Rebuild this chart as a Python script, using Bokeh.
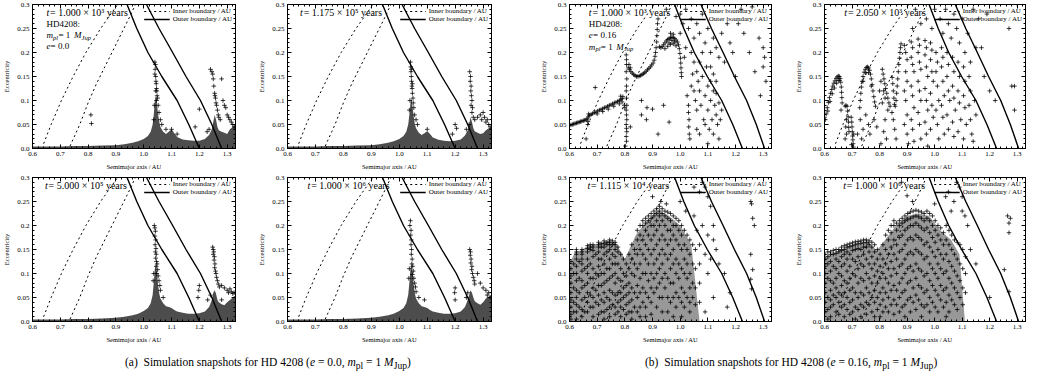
from bokeh.plotting import figure
from bokeh.models import Range1d, FixedTicker, LinearAxis, Label, Legend, LegendItem, Div, Spacer
from bokeh.layouts import column, row
from bokeh.embed import file_html
from bokeh.resources import INLINE

SERIF = "Liberation Serif"

# ---------------- axes ----------------
X_TICKS = [0.6, 0.7, 0.8, 0.9, 1.0, 1.1, 1.2, 1.3]
X_LABELS = ["0.6", "0.7", "0.8", "0.9", "1.0", "1.1", "1.2", "1.3"]
Y_TICKS = [0.0, 0.05, 0.1, 0.15, 0.2, 0.25, 0.3]
Y_LABELS = ["0.0", "0.05", "0.1", "0.15", "0.2", "0.25", "0.3"]

# ---------------- boundaries ----------------
INNER1_A = [0.640, 0.667, 0.704, 0.746, 0.792, 0.845, 0.906]
INNER1_E = [0.01, 0.05, 0.10, 0.15, 0.20, 0.25, 0.30]
INNER2_A = [0.735, 0.77, 0.80, 0.83, 0.86, 0.89, 0.92, 0.95, 0.97]
INNER2_E = [0.005, 0.05, 0.095, 0.135, 0.17, 0.205, 0.24, 0.275, 0.30]
OUTER_E = [0.30, 0.25, 0.20, 0.15, 0.10, 0.05, 0.0]
OUTER1_A_LEFT = [0.94, 0.975, 1.015, 1.065, 1.12, 1.162, 1.20]
OUTER2_A_LEFT = [1.01, 1.055, 1.104, 1.152, 1.204, 1.245, 1.28]
OUTER1_A_RIGHT = [0.98, 1.013, 1.051, 1.098, 1.15, 1.19, 1.225]
OUTER2_A_RIGHT = [1.075, 1.113, 1.155, 1.196, 1.24, 1.275, 1.305]

# ---------------- dense low-eccentricity band (e = 0.0 runs) ----------------
BAND_A = [0.6, 0.65, 0.7, 0.75, 0.8, 0.85, 0.9, 0.93, 0.96, 0.98, 1.0, 1.015, 1.025, 1.032, 1.036,
          1.04, 1.044, 1.048, 1.052, 1.056, 1.06, 1.07, 1.08, 1.09, 1.1, 1.11, 1.12, 1.14, 1.16, 1.18,
          1.2, 1.22, 1.235, 1.245, 1.25, 1.255, 1.26, 1.265, 1.27, 1.28, 1.29, 1.3, 1.31, 1.32, 1.33]
BAND1_E = [0.004, 0.004, 0.004, 0.005, 0.005, 0.006, 0.007, 0.009, 0.012, 0.015, 0.02, 0.026, 0.035, 0.05, 0.07,
           0.1, 0.11, 0.09, 0.07, 0.055, 0.045, 0.035, 0.03, 0.035, 0.04, 0.032, 0.024, 0.019, 0.017, 0.016,
           0.016, 0.02, 0.028, 0.04, 0.055, 0.07, 0.06, 0.045, 0.038, 0.035, 0.033, 0.03, 0.04, 0.045, 0.05]
BAND2_E = [0.004, 0.004, 0.004, 0.005, 0.005, 0.006, 0.007, 0.009, 0.012, 0.015, 0.02, 0.026, 0.035, 0.05, 0.07,
           0.095, 0.105, 0.085, 0.065, 0.05, 0.042, 0.033, 0.028, 0.032, 0.036, 0.03, 0.023, 0.018, 0.016, 0.015,
           0.016, 0.019, 0.027, 0.038, 0.05, 0.065, 0.055, 0.042, 0.036, 0.033, 0.03, 0.032, 0.038, 0.042, 0.045]
BAND5_E = [0.004, 0.004, 0.004, 0.005, 0.005, 0.006, 0.008, 0.01, 0.013, 0.016, 0.022, 0.028, 0.038, 0.055, 0.08,
           0.11, 0.12, 0.1, 0.075, 0.058, 0.048, 0.038, 0.032, 0.03, 0.028, 0.024, 0.021, 0.018, 0.016, 0.016,
           0.017, 0.021, 0.03, 0.045, 0.06, 0.065, 0.058, 0.045, 0.04, 0.036, 0.034, 0.04, 0.045, 0.05, 0.055]
BAND6_E = [0.004, 0.004, 0.004, 0.005, 0.005, 0.006, 0.008, 0.01, 0.013, 0.016, 0.022, 0.028, 0.038, 0.055, 0.08,
           0.11, 0.12, 0.1, 0.075, 0.058, 0.048, 0.038, 0.032, 0.03, 0.028, 0.024, 0.021, 0.018, 0.016, 0.016,
           0.017, 0.021, 0.03, 0.045, 0.055, 0.065, 0.06, 0.05, 0.042, 0.038, 0.035, 0.04, 0.048, 0.052, 0.055]

# upper envelope of the dense particle cloud (e = 0.16 runs, late snapshots)
CLOUD7_A = [0.6, 0.62, 0.64, 0.66, 0.7, 0.74, 0.77, 0.8, 0.84, 0.88, 0.92, 0.96, 1.0, 1.04, 1.07]
CLOUD7_E = [0.12, 0.145, 0.148, 0.155, 0.162, 0.168, 0.162, 0.13, 0.18, 0.21, 0.232, 0.22, 0.2, 0.16, 0.0]
CLOUD8_A = [0.6, 0.64, 0.68, 0.72, 0.76, 0.79, 0.82, 0.86, 0.9, 0.94, 0.98, 1.02, 1.06, 1.09, 1.11]
CLOUD8_E = [0.135, 0.145, 0.155, 0.162, 0.165, 0.148, 0.17, 0.2, 0.22, 0.225, 0.22, 0.19, 0.17, 0.14, 0.0]

# ---------------- particles (a [AU], e) ----------------
P1 = [(0.81, 0.07), (0.812, 0.052), (1.036, 0.06), (1.038, 0.09), (1.04, 0.18), (1.041, 0.165), (1.042, 0.175),
      (1.043, 0.15), (1.044, 0.14), (1.045, 0.135), (1.046, 0.125), (1.047, 0.12), (1.048, 0.11), (1.05, 0.105),
      (1.052, 0.09), (1.04, 0.155), (1.043, 0.12), (1.046, 0.1), (1.055, 0.075), (1.06, 0.06), (1.065, 0.05),
      (1.08, 0.04), (1.10, 0.04), (1.12, 0.03), (1.2, 0.082), (1.185, 0.045), (1.24, 0.165), (1.245, 0.16),
      (1.248, 0.155), (1.25, 0.145), (1.252, 0.13), (1.255, 0.115), (1.256, 0.11), (1.258, 0.105), (1.26, 0.095),
      (1.262, 0.09), (1.265, 0.08), (1.268, 0.07), (1.27, 0.065), (1.275, 0.06), (1.28, 0.145), (1.285, 0.1),
      (1.29, 0.09), (1.295, 0.085), (1.30, 0.07), (1.305, 0.065), (1.31, 0.06), (1.315, 0.055), (1.32, 0.05),
      (1.325, 0.045), (1.235, 0.04), (1.228, 0.035)]
P2 = [(1.036, 0.08), (1.038, 0.1), (1.04, 0.18), (1.041, 0.17), (1.042, 0.16), (1.043, 0.15), (1.044, 0.14),
      (1.045, 0.13), (1.046, 0.125), (1.047, 0.115), (1.049, 0.105), (1.05, 0.095), (1.052, 0.085), (1.043, 0.165),
      (1.047, 0.135), (1.055, 0.07), (1.06, 0.06), (1.065, 0.05), (1.1, 0.04), (1.2, 0.05), (1.205, 0.042),
      (1.19, 0.03), (1.252, 0.16), (1.255, 0.15), (1.254, 0.14), (1.257, 0.13), (1.256, 0.12), (1.258, 0.11),
      (1.26, 0.1), (1.257, 0.09), (1.262, 0.085), (1.26, 0.075), (1.265, 0.065), (1.27, 0.06), (1.28, 0.065),
      (1.29, 0.07), (1.295, 0.06), (1.3, 0.075), (1.305, 0.065), (1.31, 0.055), (1.315, 0.06), (1.32, 0.05),
      (1.325, 0.045), (1.25, 0.05), (1.24, 0.04)]
P5 = [(1.038, 0.2), (1.04, 0.195), (1.042, 0.188), (1.04, 0.178), (1.043, 0.17), (1.041, 0.16), (1.044, 0.152),
      (1.042, 0.145), (1.045, 0.14), (1.043, 0.132), (1.046, 0.125), (1.048, 0.12), (1.045, 0.115), (1.05, 0.108),
      (1.047, 0.1), (1.052, 0.095), (1.055, 0.085), (1.058, 0.075), (1.036, 0.1), (1.034, 0.085), (1.06, 0.065),
      (1.07, 0.05), (1.2, 0.075), (1.198, 0.065), (1.195, 0.05), (1.248, 0.155), (1.25, 0.15), (1.252, 0.145),
      (1.25, 0.14), (1.254, 0.135), (1.253, 0.128), (1.256, 0.12), (1.255, 0.112), (1.258, 0.105), (1.26, 0.1),
      (1.262, 0.092), (1.265, 0.085), (1.268, 0.078), (1.272, 0.072), (1.28, 0.075), (1.29, 0.07), (1.3, 0.065),
      (1.305, 0.06), (1.31, 0.068), (1.315, 0.062), (1.32, 0.058), (1.325, 0.06), (1.23, 0.045), (1.24, 0.055),
      (1.28, 0.045)]
P6 = [(1.038, 0.2), (1.04, 0.21), (1.042, 0.19), (1.041, 0.18), (1.043, 0.17), (1.042, 0.16), (1.044, 0.15),
      (1.043, 0.14), (1.046, 0.13), (1.045, 0.12), (1.048, 0.115), (1.05, 0.105), (1.047, 0.098), (1.052, 0.09),
      (1.055, 0.08), (1.058, 0.072), (1.036, 0.11), (1.034, 0.09), (1.06, 0.062), (1.07, 0.05), (1.09, 0.045),
      (1.2, 0.07), (1.198, 0.06), (1.252, 0.15), (1.255, 0.145), (1.254, 0.138), (1.257, 0.13), (1.256, 0.122),
      (1.26, 0.115), (1.259, 0.108), (1.262, 0.1), (1.265, 0.092), (1.268, 0.085), (1.27, 0.078), (1.28, 0.1),
      (1.29, 0.08), (1.3, 0.07), (1.31, 0.065), (1.32, 0.06), (1.325, 0.05), (1.315, 0.055), (1.24, 0.05),
      (1.245, 0.06), (1.2, 0.045)]

P3 = [(0.600, 0.048), (0.605, 0.049), (0.610, 0.050), (0.615, 0.051), (0.620, 0.052), (0.625, 0.053), (0.630, 0.054),
      (0.635, 0.055), (0.640, 0.056), (0.645, 0.057), (0.650, 0.058), (0.655, 0.059), (0.660, 0.060), (0.664, 0.062),
      (0.666, 0.050), (0.667, 0.056), (0.668, 0.066), (0.669, 0.072),
      (0.672, 0.069), (0.678, 0.071), (0.684, 0.073), (0.690, 0.075), (0.696, 0.076), (0.702, 0.078), (0.708, 0.080),
      (0.714, 0.081), (0.720, 0.083), (0.726, 0.085), (0.732, 0.086), (0.738, 0.088), (0.744, 0.090), (0.750, 0.091),
      (0.756, 0.093), (0.762, 0.095), (0.768, 0.096), (0.774, 0.098), (0.780, 0.100), (0.786, 0.102), (0.790, 0.104),
      (0.793, 0.108), (0.700, 0.072), (0.720, 0.077), (0.740, 0.082), (0.760, 0.088), (0.780, 0.093), (0.790, 0.097),
      (0.785, 0.109),
      (0.805, 0.195), (0.806, 0.185), (0.806, 0.175), (0.805, 0.16), (0.807, 0.145), (0.806, 0.13), (0.805, 0.12),
      (0.806, 0.105), (0.807, 0.09), (0.805, 0.08), (0.806, 0.07), (0.807, 0.06), (0.805, 0.05), (0.806, 0.042),
      (0.807, 0.035), (0.805, 0.025), (0.806, 0.015), (0.800, 0.085), (0.798, 0.09),
      (0.812, 0.168), (0.817, 0.164), (0.822, 0.160), (0.827, 0.157), (0.832, 0.154), (0.837, 0.152), (0.842, 0.150),
      (0.847, 0.150), (0.852, 0.151), (0.857, 0.152), (0.862, 0.154), (0.867, 0.156), (0.872, 0.158), (0.877, 0.161),
      (0.882, 0.164), (0.887, 0.167), (0.892, 0.170), (0.897, 0.174), (0.902, 0.178), (0.906, 0.184), (0.909, 0.192),
      (0.911, 0.200), (0.913, 0.210), (0.915, 0.222), (0.916, 0.235), (0.917, 0.248), (0.918, 0.260), (0.920, 0.270),
      (0.815, 0.175), (0.82, 0.168),
      (0.925, 0.212), (0.930, 0.210), (0.935, 0.212), (0.940, 0.216), (0.945, 0.220), (0.950, 0.224), (0.955, 0.227),
      (0.960, 0.229), (0.965, 0.231), (0.970, 0.232), (0.975, 0.231), (0.980, 0.229), (0.985, 0.226), (0.990, 0.222),
      (0.994, 0.216), (0.997, 0.208), (0.999, 0.198), (1.001, 0.188), (1.002, 0.178), (1.003, 0.168), (1.004, 0.158),
      (1.005, 0.150), (0.945, 0.208), (0.955, 0.213), (0.965, 0.217), (0.975, 0.218), (0.985, 0.214), (0.965, 0.240),
      (0.975, 0.238), (0.96, 0.22), (0.97, 0.225), (0.98, 0.222),
      (0.693, 0.127), (0.66, 0.02), (0.802, 0.005), (0.82, 0.045), (0.86, 0.07), (0.878, 0.06), (0.88, 0.085),
      (0.9, 0.082), (0.86, 0.1), (0.94, 0.09), (0.96, 0.055), (0.92, 0.03),
      (1.025, 0.11), (1.03, 0.09), (1.03, 0.075), (1.032, 0.06), (1.031, 0.045), (1.033, 0.03), (1.035, 0.02),
      (1.04, 0.13), (1.045, 0.155), (1.05, 0.12), (1.055, 0.1), (1.06, 0.08), (1.06, 0.16), (1.065, 0.14),
      (1.07, 0.18), (1.07, 0.12), (1.075, 0.09), (1.08, 0.2), (1.08, 0.15), (1.085, 0.06), (1.09, 0.11),
      (1.095, 0.17), (1.1, 0.13), (1.1, 0.08), (1.105, 0.04), (1.11, 0.14), (1.11, 0.1), (1.115, 0.06), (1.12, 0.12),
      (1.12, 0.03), (1.125, 0.09), (1.13, 0.07), (1.13, 0.115), (1.135, 0.05), (1.14, 0.095), (1.14, 0.02),
      (1.145, 0.06), (1.15, 0.08), (1.1, 0.01), (1.06, 0.04), (1.07, 0.03), (1.09, 0.05), (1.05, 0.18), (1.04, 0.2),
      (1.11, 0.17), (1.12, 0.155), (1.13, 0.14),
      (1.0, 0.28), (1.01, 0.26), (1.02, 0.29), (1.03, 0.25), (1.04, 0.27), (1.05, 0.23), (1.06, 0.26), (1.07, 0.24),
      (1.08, 0.28), (1.09, 0.22), (1.1, 0.25), (1.11, 0.2), (1.12, 0.23), (1.13, 0.21), (1.14, 0.19), (1.15, 0.24),
      (1.16, 0.18), (1.17, 0.26), (1.18, 0.22), (1.19, 0.2), (1.2, 0.15), (1.21, 0.26), (1.22, 0.29), (1.23, 0.24),
      (1.25, 0.2), (1.26, 0.295), (1.27, 0.16), (1.29, 0.11), (1.3, 0.21), (1.3, 0.17), (1.305, 0.19), (1.31, 0.14),
      (1.285, 0.23), (0.95, 0.29), (0.985, 0.275), (1.0, 0.24), (1.02, 0.21), (1.015, 0.19), (0.99, 0.3)]

P4 = [(0.603, 0.060), (0.606, 0.072), (0.610, 0.085), (0.614, 0.096), (0.618, 0.106), (0.622, 0.115), (0.626, 0.123),
      (0.630, 0.130), (0.634, 0.136), (0.638, 0.141), (0.642, 0.146), (0.646, 0.149), (0.650, 0.151), (0.654, 0.150),
      (0.657, 0.146), (0.659, 0.138), (0.661, 0.128), (0.662, 0.117), (0.663, 0.106), (0.664, 0.095), (0.612, 0.078),
      (0.62, 0.098), (0.628, 0.114), (0.636, 0.126), (0.644, 0.136), (0.65, 0.142), (0.655, 0.142), (0.6, 0.065),
      (0.66, 0.08),
      (0.675, 0.088), (0.678, 0.09), (0.682, 0.088), (0.684, 0.078), (0.686, 0.066), (0.687, 0.055), (0.688, 0.044),
      (0.689, 0.035), (0.68, 0.06), (0.677, 0.045), (0.68, 0.03), (0.675, 0.02),
      (0.697, 0.065), (0.699, 0.055), (0.7, 0.045), (0.701, 0.035), (0.702, 0.026), (0.703, 0.018), (0.704, 0.01),
      (0.705, 0.003), (0.698, 0.008), (0.706, 0.03),
      (0.728, 0.085), (0.73, 0.1), (0.732, 0.115), (0.734, 0.128), (0.737, 0.14), (0.74, 0.15), (0.744, 0.159),
      (0.748, 0.165), (0.752, 0.169), (0.756, 0.17), (0.76, 0.168), (0.764, 0.163), (0.767, 0.155), (0.77, 0.145),
      (0.773, 0.133), (0.776, 0.12), (0.779, 0.108), (0.782, 0.097), (0.785, 0.088), (0.74, 0.14), (0.75, 0.158),
      (0.76, 0.158), (0.77, 0.13), (0.73, 0.06), (0.74, 0.04), (0.735, 0.02), (0.75, 0.07), (0.76, 0.05),
      (0.765, 0.03), (0.72, 0.03), (0.78, 0.06), (0.79, 0.045),
      (0.81, 0.165), (0.813, 0.155), (0.816, 0.145), (0.819, 0.135), (0.822, 0.125), (0.826, 0.115), (0.83, 0.105),
      (0.834, 0.095), (0.838, 0.088), (0.815, 0.12), (0.82, 0.105), (0.83, 0.08), (0.805, 0.14), (0.8, 0.12),
      (0.81, 0.095), (0.82, 0.06), (0.815, 0.035), (0.825, 0.02), (0.805, 0.01),
      (0.846, 0.148), (0.848, 0.135), (0.85, 0.12), (0.852, 0.105), (0.854, 0.092), (0.857, 0.088), (0.86, 0.1),
      (0.862, 0.115), (0.864, 0.13), (0.866, 0.145), (0.868, 0.16), (0.87, 0.175), (0.872, 0.188), (0.874, 0.2),
      (0.876, 0.21), (0.878, 0.218), (0.85, 0.06), (0.855, 0.04), (0.86, 0.02), (0.845, 0.075),
      (0.89, 0.215), (0.895, 0.2), (0.9, 0.185), (0.895, 0.16), (0.9, 0.14), (0.89, 0.12), (0.895, 0.1), (0.9, 0.07),
      (0.89, 0.05), (0.9, 0.03), (0.905, 0.01),
      (0.915, 0.222), (0.92, 0.21), (0.915, 0.19), (0.92, 0.175), (0.925, 0.16), (0.915, 0.13), (0.92, 0.11),
      (0.925, 0.085), (0.915, 0.06), (0.92, 0.04), (0.925, 0.015),
      (0.94, 0.228), (0.945, 0.215), (0.94, 0.2), (0.945, 0.18), (0.95, 0.165), (0.94, 0.14), (0.945, 0.12),
      (0.95, 0.1), (0.94, 0.075), (0.945, 0.05), (0.95, 0.02),
      (0.965, 0.225), (0.97, 0.21), (0.965, 0.195), (0.97, 0.17), (0.975, 0.15), (0.965, 0.125), (0.97, 0.1),
      (0.975, 0.08), (0.965, 0.055), (0.97, 0.03), (0.975, 0.005),
      (0.985, 0.22), (0.99, 0.205), (0.985, 0.185), (0.99, 0.16), (0.995, 0.14), (0.985, 0.115), (0.99, 0.09),
      (0.995, 0.065), (0.985, 0.04),
      (1.005, 0.2), (1.01, 0.18), (1.005, 0.16), (1.01, 0.13), (1.015, 0.1), (1.005, 0.08), (1.01, 0.05),
      (1.015, 0.02), (1.025, 0.21), (1.03, 0.19), (1.025, 0.17), (1.03, 0.14), (1.035, 0.11), (1.025, 0.09),
      (1.03, 0.065), (1.035, 0.03), (1.045, 0.2), (1.05, 0.175), (1.045, 0.15), (1.05, 0.12), (1.055, 0.1),
      (1.045, 0.07), (1.05, 0.04), (1.065, 0.19), (1.07, 0.16), (1.065, 0.13), (1.07, 0.105), (1.075, 0.08),
      (1.065, 0.055), (1.07, 0.025), (1.085, 0.18), (1.09, 0.15), (1.085, 0.12), (1.09, 0.095), (1.095, 0.06),
      (1.085, 0.035), (1.105, 0.17), (1.11, 0.14), (1.105, 0.11), (1.11, 0.085), (1.115, 0.05), (1.105, 0.02),
      (1.125, 0.15), (1.13, 0.12), (1.125, 0.09), (1.13, 0.06), (1.135, 0.03), (1.145, 0.1), (1.15, 0.07),
      (1.14, 0.015),
      (0.92, 0.25), (0.95, 0.26), (0.97, 0.27), (0.99, 0.25), (1.0, 0.29), (1.02, 0.27), (1.03, 0.24), (1.04, 0.29),
      (1.05, 0.26), (1.06, 0.23), (1.07, 0.28), (1.08, 0.25), (1.09, 0.22), (1.1, 0.27), (1.11, 0.2), (1.12, 0.24),
      (1.13, 0.18), (1.14, 0.29), (1.15, 0.21), (1.16, 0.27), (1.17, 0.21), (1.18, 0.15), (1.2, 0.12), (1.19, 0.28),
      (1.22, 0.1), (1.27, 0.25), (1.28, 0.13), (1.29, 0.13), (1.29, 0.08), (1.3, 0.3), (0.93, 0.29), (0.97, 0.3)]

P7_COLS = [
    (0.605, [0.125, 0.11, 0.095, 0.08, 0.06, 0.045, 0.03, 0.015, 0.005]),
    (0.615, [0.12, 0.1, 0.07, 0.04, 0.02]),
    (0.625, [0.15, 0.145, 0.14, 0.13, 0.115, 0.1, 0.085, 0.065, 0.05, 0.035, 0.02, 0.005]),
    (0.635, [0.125, 0.09, 0.06, 0.03]),
    (0.645, [0.15, 0.145, 0.14, 0.13, 0.12, 0.105, 0.085, 0.07, 0.045, 0.025, 0.01]),
    (0.655, [0.11, 0.075, 0.05, 0.02]),
    (0.665, [0.158, 0.152, 0.145, 0.13, 0.115, 0.1, 0.08, 0.06, 0.04, 0.02]),
    (0.675, [0.16, 0.155, 0.15, 0.12, 0.09, 0.055, 0.03]),
    (0.685, [0.16, 0.155, 0.148, 0.135, 0.11, 0.09, 0.07, 0.05, 0.03, 0.01]),
    (0.695, [0.14, 0.1, 0.065, 0.04]),
    (0.705, [0.165, 0.16, 0.155, 0.145, 0.13, 0.115, 0.095, 0.075, 0.055, 0.035, 0.015]),
    (0.715, [0.162, 0.155, 0.13, 0.1, 0.075, 0.045, 0.02]),
    (0.725, [0.168, 0.162, 0.155, 0.14, 0.12, 0.1, 0.08, 0.06, 0.04, 0.02, 0.005]),
    (0.735, [0.165, 0.16, 0.145, 0.11, 0.085, 0.05, 0.025]),
    (0.745, [0.17, 0.165, 0.16, 0.15, 0.13, 0.11, 0.09, 0.065, 0.045, 0.03, 0.01]),
    (0.755, [0.168, 0.16, 0.14, 0.12, 0.095, 0.06, 0.035]),
    (0.765, [0.165, 0.16, 0.15, 0.135, 0.12, 0.1, 0.08, 0.055, 0.03, 0.015]),
    (0.775, [0.155, 0.145, 0.12, 0.09, 0.06, 0.04, 0.02]),
    (0.785, [0.14, 0.11, 0.085, 0.06, 0.045, 0.03, 0.01]),
    (0.795, [0.13, 0.1, 0.07, 0.05, 0.025]),
    (0.805, [0.12, 0.095, 0.075, 0.055, 0.035, 0.015]),
    (0.815, [0.14, 0.11, 0.08, 0.06, 0.04, 0.02]),
    (0.825, [0.16, 0.13, 0.1, 0.07, 0.045, 0.02, 0.005]),
    (0.835, [0.15, 0.12, 0.095, 0.06, 0.03]),
    (0.845, [0.19, 0.17, 0.14, 0.11, 0.075, 0.05, 0.02]),
    (0.855, [0.2, 0.18, 0.15, 0.12, 0.09, 0.06, 0.03, 0.01]),
    (0.865, [0.21, 0.2, 0.17, 0.14, 0.1, 0.07, 0.04]),
    (0.875, [0.215, 0.205, 0.19, 0.16, 0.13, 0.1, 0.06, 0.03, 0.01]),
    (0.885, [0.22, 0.21, 0.18, 0.15, 0.12, 0.085, 0.05]),
    (0.895, [0.225, 0.215, 0.2, 0.17, 0.14, 0.1, 0.07, 0.04, 0.015]),
    (0.905, [0.23, 0.22, 0.2, 0.18, 0.15, 0.12, 0.09, 0.06]),
    (0.915, [0.235, 0.225, 0.21, 0.19, 0.16, 0.13, 0.1, 0.07, 0.03]),
    (0.925, [0.24, 0.23, 0.22, 0.2, 0.17, 0.14, 0.11, 0.08, 0.05]),
    (0.935, [0.235, 0.225, 0.21, 0.18, 0.15, 0.12, 0.09, 0.05, 0.02]),
    (0.945, [0.23, 0.22, 0.2, 0.17, 0.14, 0.1, 0.07]),
    (0.955, [0.228, 0.215, 0.19, 0.16, 0.13, 0.09, 0.05, 0.02]),
    (0.965, [0.225, 0.21, 0.19, 0.17, 0.14, 0.11, 0.08, 0.04]),
    (0.975, [0.22, 0.2, 0.18, 0.15, 0.12, 0.08, 0.05, 0.01]),
    (0.985, [0.215, 0.2, 0.17, 0.13, 0.1, 0.06, 0.03]),
    (0.995, [0.21, 0.19, 0.16, 0.12, 0.09, 0.05]),
    (1.005, [0.2, 0.18, 0.15, 0.11, 0.07, 0.04, 0.01]),
    (1.015, [0.19, 0.16, 0.13, 0.1, 0.06, 0.03]),
    (1.025, [0.18, 0.15, 0.12, 0.09, 0.05]),
    (1.035, [0.17, 0.14, 0.1, 0.07, 0.04, 0.02]),
    (1.045, [0.16, 0.12, 0.08, 0.05]),
    (1.055, [0.15, 0.11, 0.07, 0.035]),
    (1.07, [0.12, 0.08, 0.04]),
]
P7_EXTRA = [(0.9, 0.26), (0.93, 0.25), (0.95, 0.245), (1.0, 0.25), (1.02, 0.23), (1.05, 0.22), (1.06, 0.19),
            (1.08, 0.2), (1.1, 0.18), (1.12, 0.17), (1.14, 0.12), (1.16, 0.1), (1.18, 0.06), (1.1, 0.1),
            (1.09, 0.14), (1.07, 0.16), (1.11, 0.13), (1.05, 0.28), (1.07, 0.27), (1.08, 0.29), (1.09, 0.28),
            (1.1, 0.26), (1.11, 0.24), (1.12, 0.2), (1.13, 0.15), (1.255, 0.25), (1.258, 0.245), (1.262, 0.215),
            (1.268, 0.2), (1.255, 0.14), (1.262, 0.108), (1.255, 0.088), (1.258, 0.068), (1.17, 0.03),
            (1.09, 0.02), (1.12, 0.05)]

P8_COLS = [
    (0.602, [0.14, 0.13, 0.115, 0.1, 0.08, 0.06, 0.04, 0.02]),
    (0.612, [0.145, 0.135, 0.12, 0.09, 0.05, 0.025, 0.005]),
    (0.622, [0.145, 0.14, 0.125, 0.105, 0.085, 0.065, 0.045, 0.03, 0.01]),
    (0.632, [0.148, 0.14, 0.115, 0.08, 0.055, 0.035]),
    (0.642, [0.15, 0.142, 0.13, 0.11, 0.09, 0.07, 0.05, 0.02]),
    (0.652, [0.15, 0.145, 0.125, 0.1, 0.06, 0.04, 0.015]),
    (0.662, [0.155, 0.148, 0.135, 0.115, 0.095, 0.075, 0.055, 0.03]),
    (0.672, [0.158, 0.15, 0.14, 0.12, 0.085, 0.06, 0.035, 0.01]),
    (0.682, [0.16, 0.155, 0.145, 0.13, 0.105, 0.08, 0.05, 0.025]),
    (0.692, [0.162, 0.156, 0.14, 0.115, 0.09, 0.065, 0.04, 0.015]),
    (0.702, [0.164, 0.158, 0.148, 0.13, 0.1, 0.07, 0.045, 0.02]),
    (0.712, [0.166, 0.16, 0.15, 0.125, 0.095, 0.06, 0.03, 0.005]),
    (0.722, [0.167, 0.162, 0.152, 0.135, 0.11, 0.08, 0.05, 0.025]),
    (0.732, [0.168, 0.163, 0.15, 0.12, 0.09, 0.06, 0.035, 0.01]),
    (0.742, [0.17, 0.164, 0.155, 0.14, 0.115, 0.085, 0.055, 0.03]),
    (0.752, [0.17, 0.165, 0.155, 0.13, 0.1, 0.07, 0.04, 0.015]),
    (0.762, [0.168, 0.16, 0.145, 0.12, 0.09, 0.06, 0.035]),
    (0.772, [0.165, 0.155, 0.135, 0.11, 0.08, 0.05, 0.02]),
    (0.782, [0.16, 0.145, 0.12, 0.095, 0.065, 0.04, 0.01]),
    (0.792, [0.15, 0.13, 0.105, 0.08, 0.05, 0.025]),
    (0.802, [0.14, 0.115, 0.09, 0.06, 0.035, 0.01]),
    (0.812, [0.16, 0.13, 0.1, 0.07, 0.045, 0.02]),
    (0.822, [0.18, 0.15, 0.12, 0.09, 0.06, 0.03]),
    (0.832, [0.19, 0.17, 0.14, 0.11, 0.08, 0.05, 0.02]),
    (0.842, [0.2, 0.185, 0.155, 0.125, 0.095, 0.065, 0.035]),
    (0.852, [0.21, 0.2, 0.17, 0.14, 0.11, 0.075, 0.045, 0.015]),
    (0.862, [0.205, 0.19, 0.16, 0.13, 0.1, 0.065, 0.035]),
    (0.872, [0.21, 0.2, 0.175, 0.145, 0.115, 0.08, 0.05, 0.02]),
    (0.882, [0.215, 0.205, 0.18, 0.15, 0.12, 0.09, 0.06, 0.03]),
    (0.892, [0.22, 0.21, 0.19, 0.16, 0.13, 0.1, 0.065, 0.035, 0.01]),
    (0.902, [0.225, 0.212, 0.195, 0.17, 0.14, 0.11, 0.08, 0.045]),
    (0.912, [0.228, 0.215, 0.2, 0.175, 0.145, 0.115, 0.085, 0.05, 0.02]),
    (0.922, [0.23, 0.218, 0.2, 0.17, 0.14, 0.105, 0.07, 0.04]),
    (0.932, [0.232, 0.22, 0.205, 0.18, 0.15, 0.12, 0.09, 0.055, 0.025]),
    (0.942, [0.23, 0.218, 0.2, 0.175, 0.145, 0.11, 0.075, 0.045]),
    (0.952, [0.228, 0.215, 0.195, 0.17, 0.14, 0.105, 0.07, 0.035, 0.01]),
    (0.962, [0.225, 0.21, 0.19, 0.16, 0.13, 0.095, 0.06, 0.03]),
    (0.972, [0.23, 0.215, 0.195, 0.165, 0.135, 0.1, 0.065, 0.035]),
    (0.982, [0.225, 0.21, 0.185, 0.155, 0.12, 0.085, 0.05, 0.02]),
    (0.992, [0.22, 0.2, 0.175, 0.145, 0.11, 0.075, 0.04]),
    (1.002, [0.21, 0.19, 0.165, 0.135, 0.1, 0.065, 0.03]),
    (1.012, [0.2, 0.18, 0.15, 0.12, 0.09, 0.055, 0.02]),
    (1.022, [0.195, 0.17, 0.14, 0.11, 0.075, 0.045]),
    (1.032, [0.185, 0.16, 0.13, 0.1, 0.065, 0.03]),
    (1.042, [0.2, 0.17, 0.14, 0.105, 0.07, 0.04, 0.01]),
    (1.052, [0.19, 0.16, 0.125, 0.09, 0.055, 0.02]),
    (1.062, [0.18, 0.15, 0.115, 0.08, 0.045]),
    (1.072, [0.17, 0.14, 0.105, 0.07, 0.035]),
    (1.082, [0.165, 0.13, 0.095, 0.06, 0.025]),
    (1.092, [0.16, 0.12, 0.085, 0.05]),
    (1.102, [0.15, 0.11, 0.07, 0.035]),
    (1.112, [0.135, 0.1, 0.06]),
]
P8_EXTRA = [(0.88, 0.29), (0.9, 0.262), (0.92, 0.25), (1.0, 0.245), (1.05, 0.27), (1.07, 0.25), (1.08, 0.29),
            (1.1, 0.23), (1.11, 0.22), (1.12, 0.2), (1.1, 0.26), (1.09, 0.28), (1.13, 0.15), (1.15, 0.12),
            (1.265, 0.22), (1.275, 0.215), (1.27, 0.205), (1.27, 0.185), (1.253, 0.108), (1.27, 0.062),
            (1.06, 0.23), (1.04, 0.26), (1.2, 0.05)]

# snapshot times, panel order: top row left->right, then bottom row
TIMES = ["1.000 × 10³", "1.175 × 10⁵", "1.000 × 10³", "2.050 × 10³",
         "5.000 × 10⁵", "1.000 × 10⁶", "1.115 × 10⁴", "1.000 × 10⁶"]


def expand(cols):
    return [(a, e) for a, es in cols for e in es]


def style_axis(ax, ticks, minor, labels, title, standoff):
    ax.ticker = FixedTicker(ticks=ticks, minor_ticks=minor)
    ax.major_label_overrides = dict(zip(ticks, labels))
    ax.major_tick_in = 4
    ax.major_tick_out = 0
    ax.minor_tick_in = 2
    ax.minor_tick_out = 0
    ax.axis_line_color = "black"
    ax.major_tick_line_color = "black"
    ax.minor_tick_line_color = "black"
    ax.major_label_text_font = SERIF
    ax.major_label_text_font_size = "7px"
    ax.major_label_text_color = "black"
    ax.major_label_standoff = 3
    ax.axis_label = title
    ax.axis_label_text_font = SERIF
    ax.axis_label_text_font_size = "6.5px"
    ax.axis_label_text_font_style = "normal"
    ax.axis_label_text_color = "black"
    ax.axis_label_standoff = standoff


def mirror(p, ticks, minor, place):
    # tick marks only (no labels): ticks are given as "minor" ticks of an unlabeled axis
    for tk, ln in ((ticks, 4), (minor, 2)):
        ax = LinearAxis(ticker=FixedTicker(ticks=[], minor_ticks=tk), major_label_standoff=0,
                        major_tick_in=0, major_tick_out=0, minor_tick_in=ln, minor_tick_out=0,
                        minor_tick_line_color="black", axis_line_color="black")
        p.add_layout(ax, place)


def rich(p, x, y, parts):
    off = 0.0
    for txt, style, size, dy, w in parts:
        p.add_layout(Label(x=x, y=y, x_offset=off, y_offset=dy, text=txt, text_font=SERIF,
                           text_font_size=f"{size}px", text_font_style=style,
                           text_baseline="middle", text_align="left", text_color="black"))
        off += w


X_MINOR = [round(0.6 + 0.02 * i, 2) for i in range(37)]
Y_MINOR = [round(0.01 * i, 2) for i in range(31)]


def make_panel(width, height, mbl, mbr, mbt, mbb, pts, band, out1, out2, tstr, tx, info):
    p = figure(width=width, height=height, x_range=Range1d(0.6, 1.33), y_range=Range1d(0.0, 0.3),
               output_backend="svg", toolbar_location=None,
               min_border_left=mbl, min_border_right=mbr, min_border_top=mbt, min_border_bottom=mbb)
    p.xgrid.visible = False
    p.ygrid.visible = False
    p.outline_line_color = "black"
    p.outline_line_width = 1
    p.background_fill_color = "white"
    p.border_fill_color = "white"

    if band is not None:
        ba, be, col, alpha = band
        p.varea(x=ba, y1=0, y2=be, fill_color=col, fill_alpha=alpha)
    a = [q[0] for q in pts]
    e = [q[1] for q in pts]
    p.scatter(a, e, marker="cross", size=4.5, line_color="black", line_width=0.9, line_alpha=0.85)

    r_in = p.line(INNER1_A, INNER1_E, line_color="black", line_width=1, line_dash="2 3")
    p.line(INNER2_A, INNER2_E, line_color="black", line_width=1, line_dash="2 3")
    r_out = p.line(out1, OUTER_E, line_color="black", line_width=1.4)
    p.line(out2, OUTER_E, line_color="black", line_width=1.4)

    style_axis(p.xaxis[0], X_TICKS, X_MINOR, X_LABELS, "Semimajor axis / AU", 4)
    style_axis(p.yaxis[0], Y_TICKS, Y_MINOR, Y_LABELS, "Eccentricity", 4)
    mirror(p, X_TICKS, X_MINOR, "above")
    mirror(p, Y_TICKS, Y_MINOR, "right")

    legend = Legend(items=[LegendItem(label="Inner boundary / AU", renderers=[r_in]),
                           LegendItem(label="Outer boundary / AU", renderers=[r_out])],
                    location="top_right", label_text_font=SERIF, label_text_font_size="7px",
                    label_text_color="black",
                    label_height=6, glyph_height=6, glyph_width=26, spacing=0, padding=1, margin=2,
                    label_standoff=3, background_fill_alpha=0, border_line_alpha=0)
    p.add_layout(legend)

    rich(p, tx, 0.284, [("t", "italic", 10, 0, 3.6), (" = " + tstr + " years", "normal", 10, 0, 0)])
    for (y, parts) in info:
        rich(p, tx, y, parts)
    return p


HD = [("HD4208:", "normal", 9, 0, 0)]
MPL = [("m", "italic", 9, 0, 6.6), ("pl", "italic", 6.5, -2, 5.4), (" = 1 ", "normal", 9, 0, 15.5),
       ("M", "italic", 9, 0, 7.6), ("Jup", "italic", 6.5, -2, 0)]
E00 = [("e", "italic", 9, 0, 4.2), (" = 0.0", "normal", 9, 0, 0)]
E16 = [("e", "italic", 9, 0, 4.2), (" = 0.16", "normal", 9, 0, 0)]

DARK = "#111111"
GREY = "#444444"
TOP_H, BOT_H = 173, 173
f1 = make_panel(255, TOP_H, 27, 20, 4, 25, P1, (BAND_A, BAND1_E, DARK, 0.75), OUTER1_A_LEFT, OUTER2_A_LEFT,
                TIMES[0], 0.65, [(0.259, HD), (0.236, MPL), (0.213, E00)])
f2 = make_panel(282, TOP_H, 28, 46, 4, 25, P2, (BAND_A, BAND2_E, DARK, 0.75), OUTER1_A_LEFT, OUTER2_A_LEFT,
                TIMES[1], 0.645, [])
f3 = make_panel(255, TOP_H, 29, 21, 4, 25, P3, None, OUTER1_A_RIGHT, OUTER2_A_RIGHT, TIMES[2], 0.67,
                [(0.259, HD), (0.236, E16), (0.212, MPL)])
f4 = make_panel(235, TOP_H, 29, 2, 4, 25, P4, None, OUTER1_A_RIGHT, OUTER2_A_RIGHT, TIMES[3], 0.672, [])
f5 = make_panel(255, BOT_H, 27, 20, 4, 25, P5, (BAND_A, BAND5_E, DARK, 0.75), OUTER1_A_LEFT, OUTER2_A_LEFT,
                TIMES[4], 0.645, [])
f6 = make_panel(282, BOT_H, 28, 46, 4, 25, P6, (BAND_A, BAND6_E, DARK, 0.75), OUTER1_A_LEFT, OUTER2_A_LEFT,
                TIMES[5], 0.672, [])
f7 = make_panel(255, BOT_H, 29, 21, 4, 25, expand(P7_COLS) + P7_EXTRA, (CLOUD7_A, CLOUD7_E, GREY, 0.55),
                OUTER1_A_RIGHT, OUTER2_A_RIGHT, TIMES[6], 0.665, [])
f8 = make_panel(235, BOT_H, 29, 2, 4, 25, expand(P8_COLS) + P8_EXTRA, (CLOUD8_A, CLOUD8_E, GREY, 0.55),
                OUTER1_A_RIGHT, OUTER2_A_RIGHT, TIMES[7], 0.668, [])

WRAP = ("<div style=\"font-family: 'Liberation Serif', 'Times New Roman', serif; font-size: 11.5px; "
        "color: black; white-space: nowrap; padding-top: 10px; line-height: 12px;\">")
cap_a = Div(text=WRAP + "(a)&nbsp; Simulation snapshots for HD 4208 (<i>e</i> = 0.0, <i>m</i><sub>pl</sub> = 1 <i>M</i><sub>Jup</sub>)</div>",
            width=400, height=23, margin=(0, 0, 0, 0))
cap_b = Div(text=WRAP + "(b)&nbsp; Simulation snapshots for HD 4208 (<i>e</i> = 0.16, <i>m</i><sub>pl</sub> = 1 <i>M</i><sub>Jup</sub>)</div>",
            width=375, height=23, margin=(0, 0, 0, 0))

layout = column(row(f1, f2, f3, f4), row(f5, f6, f7, f8),
                row(Spacer(width=125, height=23), cap_a, Spacer(width=120, height=23), cap_b))

open("out.html", "w").write(file_html(layout, INLINE))
